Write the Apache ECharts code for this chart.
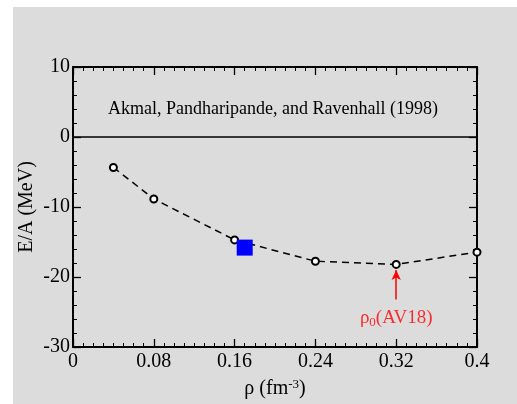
<!DOCTYPE html>
<html>
<head>
<meta charset="utf-8">
<script src="https://cdn.jsdelivr.net/npm/echarts@6/dist/echarts.min.js"></script>
<style>
html,body{margin:0;padding:0;background:#fff;}
#frame{position:absolute;left:13px;top:7px;width:504px;height:397px;background:#dcdcdc;}
#chart{position:absolute;left:0;top:0;width:517px;height:404px;}
</style>
</head>
<body>
<div id="frame"></div>
<div id="chart"></div>
<script>
// Density (fm^-3) and energy per nucleon (MeV), AV18 symmetric matter
const density = [0.04, 0.08, 0.16, 0.24, 0.32, 0.40];
const energy = [-4.35, -8.85, -14.7, -17.75, -18.2, -16.45];
// Empirical saturation point
const saturation = [[0.17, -15.8]];
// Arrow marking rho0 for AV18
const arrowFrom = [0.32, -23.2];
const arrowTo = [0.32, -19.0];
const xTicks = [0, 0.08, 0.16, 0.24, 0.32, 0.4];
const yTicks = [-30, -20, -10, 0, 10];

const FONT = 'Liberation Serif';
const chart = echarts.init(document.getElementById('chart'), null, {renderer: 'canvas'});

const axisCommon = {
  axisLine: {show: true, onZero: false, lineStyle: {color: '#000', width: 2}},
  axisTick: {show: true, inside: true, length: 8, lineStyle: {color: '#000', width: 1.3}},
  minorTick: {show: true, length: 4, lineStyle: {color: '#000', width: 1}},
  splitLine: {show: false}
};

chart.setOption({
  animation: false,
  backgroundColor: 'transparent',
  grid: {left: 73, right: 40, top: 67, bottom: 56},
  xAxis: [
    Object.assign({}, axisCommon, {
      type: 'value', min: 0, max: 0.4, interval: 0.08, position: 'bottom',
      minorTick: Object.assign({}, axisCommon.minorTick, {splitNumber: 8}),
      axisLabel: {fontFamily: FONT, fontSize: 20, color: '#000', margin: 5,
        formatter: v => xTicks.find(t => Math.abs(t - v) < 1e-9) !== undefined ? String(+v.toFixed(2)) : ''},
      name: '{r|ρ (fm}{s|-3}{r|)}', nameLocation: 'middle', nameGap: 31,
      nameTextStyle: {rich: {
        r: {fontFamily: FONT, fontSize: 20, color: '#000'},
        s: {fontFamily: FONT, fontSize: 13, color: '#000', verticalAlign: 'top', padding: [0, 0, 9, 0]}
      }}
    }),
    Object.assign({}, axisCommon, {
      type: 'value', min: 0, max: 0.4, interval: 0.08, position: 'top',
      minorTick: Object.assign({}, axisCommon.minorTick, {splitNumber: 8}),
      axisLabel: {show: false}
    })
  ],
  yAxis: [
    Object.assign({}, axisCommon, {
      type: 'value', min: -30, max: 10, interval: 10, position: 'left',
      minorTick: Object.assign({}, axisCommon.minorTick, {splitNumber: 5}),
      axisLabel: {fontFamily: FONT, fontSize: 20, color: '#000', margin: 3,
        formatter: v => yTicks.includes(v) ? String(v) : ''},
      name: 'E/A (MeV)', nameLocation: 'middle', nameGap: 36, nameMoveOverlap: false,
      nameTextStyle: {fontFamily: FONT, fontSize: 20, color: '#000'}
    }),
    Object.assign({}, axisCommon, {
      type: 'value', min: -30, max: 10, interval: 10, position: 'right',
      minorTick: Object.assign({}, axisCommon.minorTick, {splitNumber: 5}),
      axisLabel: {show: false}
    })
  ],
  graphic: [{
    type: 'text', left: 108, top: 100,
    style: {text: 'Akmal, Pandharipande, and Ravenhall (1998)', font: '18px "Liberation Serif"', fill: '#000'}
  }],
  series: [
    {
      type: 'line',
      data: density.map((d, i) => [d, energy[i]]),
      symbol: 'emptyCircle', symbolSize: 7,
      itemStyle: {color: '#000', borderWidth: 1.2},
      lineStyle: {color: '#000', width: 1.5, type: [7, 5]},
      z: 3,
      markLine: {
        silent: true, symbol: 'none', animation: false,
        lineStyle: {color: '#000', width: 1.5, type: 'solid'},
        label: {show: false},
        data: [
          {yAxis: 0},
          [{coord: arrowFrom, symbol: 'none'}, {coord: arrowTo, symbol: 'arrow', symbolSize: [7, 10],
            lineStyle: {color: '#ff0000', width: 1.5}}]
        ]
      }
    },
    {
      type: 'scatter',
      data: saturation,
      symbol: 'rect', symbolSize: 16,
      itemStyle: {color: '#0000ff', opacity: 1},
      z: 4
    },
    {
      type: 'scatter',
      data: [[0.32, -25.9]],
      symbolSize: 0,
      silent: true,
      label: {
        show: true, position: 'inside',
        formatter: '{a|ρ}{b|0}{a|(AV18)}',
        rich: {
          a: {fontFamily: FONT, fontSize: 19, color: '#ff0000'},
          b: {fontFamily: FONT, fontSize: 13, color: '#ff0000', verticalAlign: 'bottom', padding: [9, 0, 0, 0]}
        }
      }
    }
  ]
});
</script>
</body>
</html>
